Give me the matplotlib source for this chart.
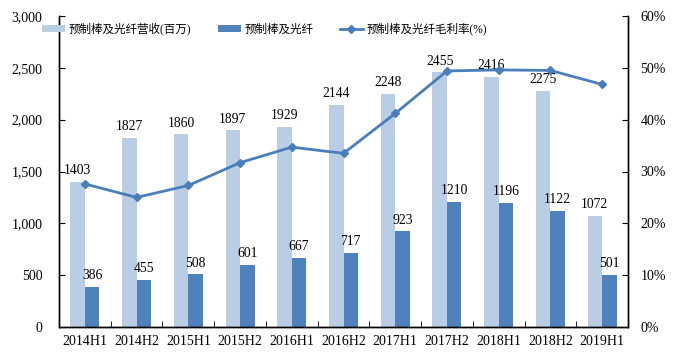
import matplotlib

matplotlib.use("Agg")
import matplotlib.pyplot as plt
import numpy as np
from matplotlib.ticker import FuncFormatter

plt.rcParams["font.family"] = ["Liberation Serif", "Noto Sans CJK SC"]

periods = ["2014H1", "2014H2", "2015H1", "2015H2", "2016H1", "2016H2",
           "2017H1", "2017H2", "2018H1", "2018H2", "2019H1"]
revenue = [1403, 1827, 1860, 1897, 1929, 2144, 2248, 2455, 2416, 2275, 1072]
fiber = [386, 455, 508, 601, 667, 717, 923, 1210, 1196, 1122, 501]
margin = [27.6, 25.0, 27.3, 31.7, 34.7, 33.5, 41.2, 49.4, 49.6, 49.5, 46.8]

C_LIGHT = "#b9cde5"
C_DARK = "#4f81bd"
C_LINE = "#4a7ebb"

fig = plt.figure(figsize=(6.8, 3.59), dpi=100)
ax = fig.add_axes([59 / 680, 1 - 327 / 359, 569 / 680, 311 / 359])
ax2 = ax.twinx()

x = np.arange(len(periods))
w = 0.28
b1 = ax.bar(x - w / 2, revenue, w, color=C_LIGHT, label="预制棒及光纤营收(百万)")
b2 = ax.bar(x + w / 2, fiber, w, color=C_DARK, label="预制棒及光纤")
for xi, v in zip(x, revenue):
    ax.text(xi - w / 2, v + 45, str(v), ha="center", va="bottom", fontsize=9.8)
for xi, v in zip(x, fiber):
    ax.text(xi + w / 2, v + 45, str(v), ha="center", va="bottom", fontsize=9.8)

ln, = ax2.plot(x, margin, color=C_LINE, lw=2, marker="D", ms=4,
               label="预制棒及光纤毛利率(%)")

ax.set_xlim(-0.5, len(periods) - 0.5)
ax.set_ylim(0, 3000)
ax.set_yticks(range(0, 3001, 500))
ax.yaxis.set_major_formatter(FuncFormatter(lambda v, p: f"{int(v):,}"))
ax2.set_ylim(0, 60)
ax2.set_yticks(range(0, 61, 10))
ax2.yaxis.set_major_formatter(FuncFormatter(lambda v, p: f"{int(v)}%"))

ax.set_xticks(x)
ax.set_xticklabels(periods)
ax.set_xticks(np.arange(-0.5, len(periods), 1), minor=True)
ax.tick_params(axis="x", which="major", length=0, labelsize=10, pad=6)
ax.tick_params(axis="x", which="minor", length=4, direction="in")
ax.tick_params(axis="y", direction="in", length=4, labelsize=10, pad=12)
ax2.tick_params(axis="y", direction="in", length=4, labelsize=10, pad=9)

for a in (ax, ax2):
    a.spines["top"].set_visible(False)
    for s in ("left", "right", "bottom"):
        a.spines[s].set_color("#000000")
        a.spines[s].set_linewidth(1)

fig.legend(handles=[b1, b2, ln], loc="center left",
           bbox_to_anchor=(42 / 680, 1 - 29 / 359), ncol=3, frameon=False,
           prop={"size": 8.3}, handlelength=2.0, handleheight=0.6,
           columnspacing=2.3, handletextpad=0.3, borderaxespad=0,
           borderpad=0)

fig.savefig("out.png", dpi=100)
